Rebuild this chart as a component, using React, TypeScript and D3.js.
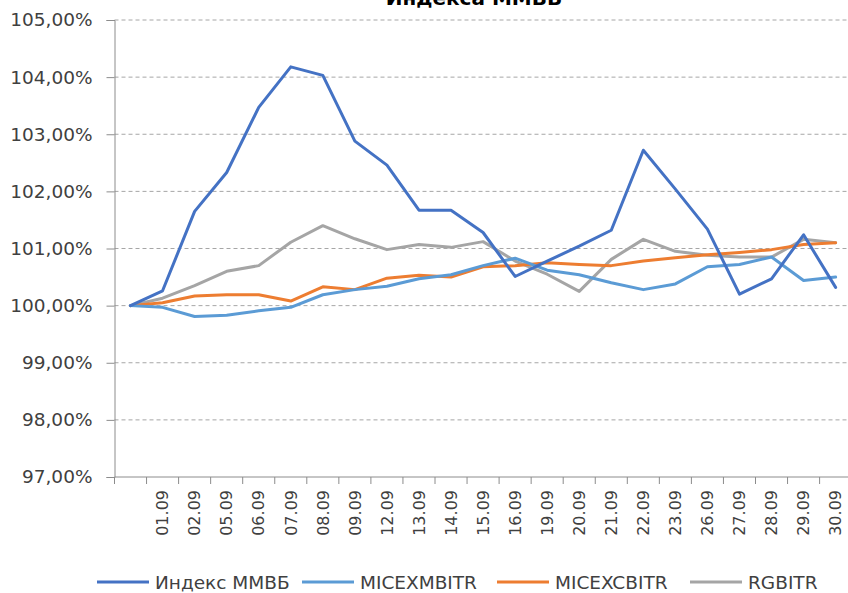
import React, { useEffect, useRef } from "react";
import * as d3 from "d3";

// dates (first category has an empty label)
const dates = ["", "01.09", "02.09", "05.09", "06.09", "07.09", "08.09", "09.09", "12.09", "13.09", "14.09", "15.09", "16.09", "19.09", "20.09", "21.09", "22.09", "23.09", "26.09", "27.09", "28.09", "29.09", "30.09"];

const mmvb = [100.0, 100.26, 101.65, 102.33, 103.47, 104.18, 104.03, 102.88, 102.46, 101.67, 101.67, 101.28, 100.51, 100.78, 101.04, 101.32, 102.72, 102.04, 101.34, 100.2, 100.47, 101.24, 100.32];
const micexmbitr = [100.0, 99.97, 99.81, 99.83, 99.91, 99.97, 100.19, 100.28, 100.34, 100.47, 100.54, 100.7, 100.83, 100.62, 100.54, 100.4, 100.28, 100.38, 100.68, 100.72, 100.85, 100.44, 100.5];
const micexcbitr = [100.0, 100.05, 100.17, 100.19, 100.19, 100.08, 100.33, 100.28, 100.48, 100.53, 100.5, 100.68, 100.7, 100.75, 100.72, 100.7, 100.78, 100.84, 100.89, 100.93, 100.98, 101.07, 101.1];
const rgbitr = [100.0, 100.13, 100.35, 100.6, 100.7, 101.11, 101.4, 101.17, 100.98, 101.07, 101.02, 101.12, 100.78, 100.55, 100.25, 100.81, 101.16, 100.95, 100.88, 100.85, 100.85, 101.16, 101.1];

const seriesNames = ["Индекс ММВБ", "MICEXMBITR", "MICEXCBITR", "RGBITR"];
const seriesColors = ["#4472C4", "#5B9BD5", "#ED7D31", "#A5A5A5"];
const yTicks = [97, 98, 99, 100, 101, 102, 103, 104, 105];

const W = 848,
  H = 593;

export default function App() {
  const ref = useRef<SVGSVGElement>(null);

  useEffect(() => {
    const svg = d3.select(ref.current);
    svg.selectAll("*").remove();

    const font = "'DejaVu Sans', Verdana, sans-serif";
    const left = 114.5,
      top = 20,
      bottom = 477;
    const right = left + dates.length * 32.05;

    const x = d3.scaleBand().domain(dates.map((d, i) => String(i))).range([left, right]);
    const y = d3.scaleLinear().domain([97, 105]).range([bottom, top]);

    // grid lines
    svg
      .append("g")
      .selectAll("line")
      .data(yTicks.filter((t) => t !== 97))
      .join("line")
      .attr("x1", left)
      .attr("x2", W)
      .attr("y1", (d) => y(d))
      .attr("y2", (d) => y(d))
      .attr("stroke", "#a6a6a6")
      .attr("stroke-width", 1)
      .attr("stroke-dasharray", "4,3");

    // y axis
    const yAxis = svg
      .append("g")
      .attr("transform", `translate(${left},0)`)
      .call(
        d3
          .axisLeft(y)
          .tickValues(yTicks)
          .tickSize(8)
          .tickPadding(14)
          .tickFormat((d) => d3.format(".2f")(d as number).replace(".", ",") + "%")
      );
    yAxis.select(".domain").attr("stroke", "#8c8c8c");
    yAxis.selectAll(".tick line").attr("stroke", "#8c8c8c");
    yAxis
      .selectAll(".tick text")
      .attr("fill", "#404040")
      .style("font-family", font)
      .style("font-size", "18.5px");

    // x axis
    const xAxis = svg
      .append("g")
      .attr("transform", `translate(0,${bottom})`)
      .call(d3.axisBottom(x).tickSize(0).tickFormat((d) => dates[+d]));
    xAxis.select(".domain").attr("stroke", "#8c8c8c").attr("d", `M${left},0H${W}`);
    xAxis
      .append("g")
      .selectAll("line")
      .data(d3.range(dates.length + 1))
      .join("line")
      .attr("x1", (i) => left + i * x.bandwidth())
      .attr("x2", (i) => left + i * x.bandwidth())
      .attr("y1", 0)
      .attr("y2", 7)
      .attr("stroke", "#8c8c8c");
    xAxis
      .selectAll(".tick text")
      .attr("fill", "#404040")
      .attr("text-anchor", "end")
      .attr("transform", "rotate(-90)")
      .attr("x", -13)
      .attr("y", 0)
      .attr("dy", "0.36em")
      .style("font-family", font)
      .style("font-size", "16px");

    // lines
    const all = [mmvb, micexmbitr, micexcbitr, rgbitr];
    const line = d3
      .line<number>()
      .x((d, i) => (x(String(i)) as number) + x.bandwidth() / 2)
      .y((d) => y(d));
    svg
      .append("g")
      .selectAll("path")
      .data(all.map((s, k) => ({ s, k })).reverse())
      .join("path")
      .attr("d", (d) => line(d.s))
      .attr("fill", "none")
      .attr("stroke", (d) => seriesColors[d.k])
      .attr("stroke-width", 3)
      .attr("stroke-linejoin", "round")
      .attr("stroke-linecap", "round");

    // title (top part is cut off)
    svg
      .append("text")
      .attr("x", 474)
      .attr("y", 5)
      .attr("text-anchor", "middle")
      .style("font-family", font)
      .style("font-weight", "bold")
      .style("font-size", "20px")
      .attr("fill", "#000")
      .text("Индекса ММВБ");

    // legend
    const legendX = [97, 302, 497, 690];
    const lg = svg
      .append("g")
      .selectAll("g")
      .data(seriesNames)
      .join("g")
      .attr("transform", (d, i) => `translate(${legendX[i]},582)`);
    lg.append("line")
      .attr("x1", 0)
      .attr("x2", 52)
      .attr("stroke", (d, i) => seriesColors[i])
      .attr("stroke-width", 3);
    lg.append("text")
      .attr("x", 58)
      .attr("dy", "0.36em")
      .attr("fill", "#404040")
      .style("font-family", font)
      .style("font-size", "18.5px")
      .text((d) => d);
  }, []);

  return (
    <svg
      ref={ref}
      width={W}
      height={H}
      style={{ position: "absolute", left: 0, top: 0, background: "#fff" }}
    />
  );
}
